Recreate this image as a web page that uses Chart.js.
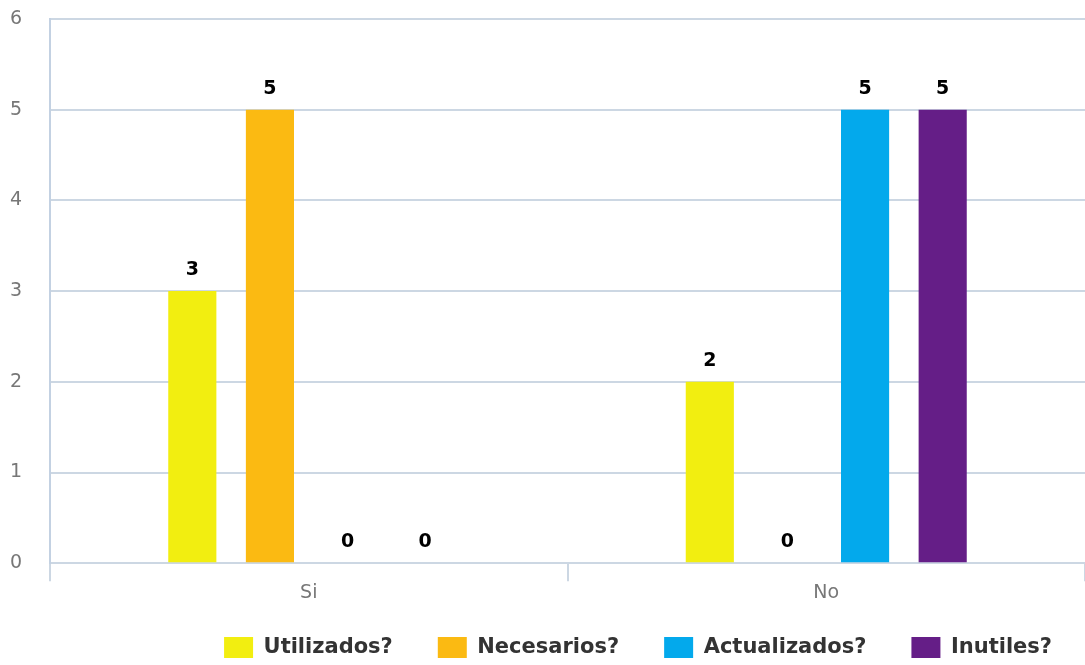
<!DOCTYPE html>
<html>
<head>
<meta charset="utf-8">
<script src="https://cdn.jsdelivr.net/npm/chart.js@4"></script>
<style>
  html, body { margin: 0; padding: 0; background: #fff; }
  #wrap { width: 1085px; height: 665px; }
</style>
</head>
<body>
<div id="wrap"><canvas id="chart"></canvas></div>
<script>
// datos
const categorias = ['Si', 'No'];
const utilizados = [3, 2];
const necesarios = [5, 0];
const actualizados = [0, 5];
const inutiles = [0, 5];
const yTicks = [0, 1, 2, 3, 4, 5, 6];

const gridColor = '#ccd7e3';

const ajustes = {
    id: 'ajustes',
    beforeInit(chart) {
        // leyenda menos alta -> mas espacio para el grafico
        const legend = chart.legend;
        const fit = legend.fit;
        legend.fit = function () {
            fit.call(this);
            this.height -= 15;
        };
    },
    afterLayout(chart) {
        chart.legend.top -= 12;
        chart.legend.left += 12;
        chart.legend.right += 12;
    },
    // etiquetas encima de cada barra
    afterDatasetsDraw(chart) {
        const ctx = chart.ctx;
        ctx.save();
        ctx.font = 'bold 19px "DejaVu Sans"';
        ctx.fillStyle = '#000';
        ctx.textAlign = 'center';
        ctx.textBaseline = 'middle';
        chart.data.datasets.forEach((ds, i) => {
            chart.getDatasetMeta(i).data.forEach((bar, j) => {
                ctx.fillText(String(ds.data[j]), bar.x, bar.y - 21);
            });
        });
        ctx.restore();
    }
};

const ctx = document.getElementById('chart').getContext('2d');
new Chart(ctx, {
    type: 'bar',
    data: {
        labels: categorias,
        datasets: [
            { label: 'Utilizados?', data: utilizados, backgroundColor: '#f2ee10' },
            { label: 'Necesarios?', data: necesarios, backgroundColor: '#fbba12' },
            { label: 'Actualizados?', data: actualizados, backgroundColor: '#03a9ec' },
            { label: 'Inutiles?', data: inutiles, backgroundColor: '#651e87' }
        ]
    },
    options: {
        responsive: true,
        maintainAspectRatio: false,
        animation: false,
        layout: { padding: { top: 19, right: 0, left: 10, bottom: 0 } },
        datasets: {
            bar: { categoryPercentage: 0.6, barPercentage: 0.62 }
        },
        scales: {
            x: {
                grid: {
                    offset: true,
                    drawOnChartArea: false,
                    color: gridColor,
                    tickLength: 18,
                    lineWidth: 2
                },
                border: { display: false },
                ticks: {
                    color: '#777',
                    font: { family: '"DejaVu Sans"', size: 19 },
                    padding: 0
                }
            },
            y: {
                min: 0,
                max: 6,
                afterBuildTicks: axis => { axis.ticks = yTicks.map(v => ({ value: v })); },
                afterFit: axis => { axis.width = 40; },
                grid: { color: gridColor, drawTicks: false, lineWidth: 2 },
                border: { color: '#c3d1e2', width: 2 },
                ticks: {
                    color: '#777',
                    padding: 0,
                    crossAlign: 'far',
                    font: { family: '"DejaVu Sans"', size: 19 }
                }
            }
        },
        plugins: {
            legend: {
                position: 'bottom',
                align: 'end',
                labels: {
                    boxWidth: 29,
                    boxHeight: 21,
                    padding: 45,
                    color: '#333',
                    font: { family: '"DejaVu Sans"', size: 21, weight: 'bold' }
                }
            },
            tooltip: { enabled: false }
        }
    },
    plugins: [ajustes]
});
</script>
</body>
</html>
